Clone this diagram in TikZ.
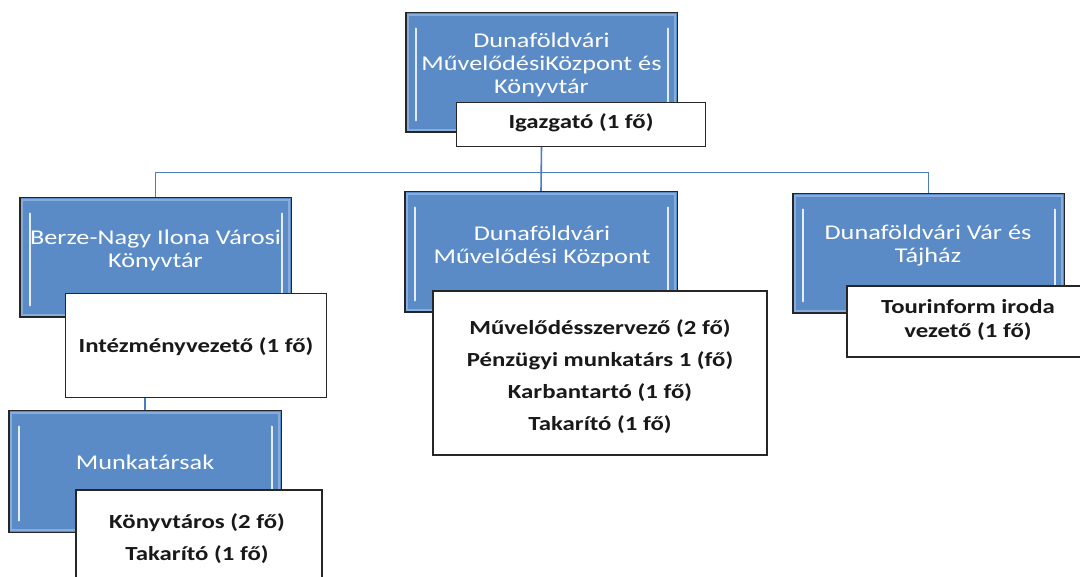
\documentclass[tikz,border=0pt]{standalone}
\usepackage{fontspec}
\setmainfont{Carlito}
\newfontfamily\bluefont[FakeStretch=1.25]{Carlito}
\newfontfamily\wbold[FakeStretch=1.24]{Carlito}
\definecolor{bluefill}{HTML}{5A8BC6}
\definecolor{edgeblue}{HTML}{86ADDB}
\definecolor{stripeblue}{HTML}{E2EDF9}
\definecolor{connblue}{HTML}{4A7DBA}
\tikzset{
  bluebox/.style={draw=black!85, line width=1pt, fill=bluefill, inner sep=0pt},
  whitebox/.style={draw=black!85, line width=1.2pt, fill=white, inner sep=0pt},
  bluetext/.style={text=white, align=center, inner sep=0pt, font=\bluefont\fontsize{21}{23}\selectfont},
  wtext/.style={text=black!90, align=center, inner sep=0pt, font=\wbold\bfseries\fontsize{20}{32}\selectfont},
  conn/.style={draw=connblue, line width=1.6pt},
  edgeline/.style={draw=edgeblue, line width=2.5pt},
  stripe/.style={draw=stripeblue, line width=2pt, line cap=round},
}
\newcommand\mybevel[1]{%
  \draw[edgeline] ([shift={(2.5pt,-2.5pt)}]#1.north west) rectangle ([shift={(-2.5pt,2.5pt)}]#1.south east);
  \draw[stripe] ([shift={(10pt,-16pt)}]#1.north west) -- ([shift={(10pt,12pt)}]#1.south west);
  \draw[stripe] ([shift={(-10pt,-16pt)}]#1.north east) -- ([shift={(-10pt,12pt)}]#1.south east);
}
\begin{document}
\begin{tikzpicture}[x=1pt,y=-1pt]
\useasboundingbox (0,0) rectangle (1080,577);
\clip (0,0) rectangle (1080,577);
\fill[white] (0,0) rectangle (1080,577);

% boxes (blue)
\node[bluebox, minimum width=271pt, minimum height=119pt] (top) at (541.5,72.5) {};
\node[bluebox, minimum width=271pt, minimum height=119pt] (lib) at (155.5,257.5) {};
\node[bluebox, minimum width=272pt, minimum height=120pt] (kozp) at (541,252) {};
\node[bluebox, minimum width=271pt, minimum height=119pt] (var) at (928.5,253.5) {};
\node[bluebox, minimum width=272pt, minimum height=121pt] (munk) at (145,471.5) {};

% white boxes (nodes defined for connector anchors)
\path (581,124.5) node[minimum width=248pt, minimum height=43pt, inner sep=0pt] (igaz) {};
\path (196,345.5) node[minimum width=260pt, minimum height=103pt, inner sep=0pt] (intez) {};

% connectors
\coordinate (bus) at (0,172.5);
\draw[conn] (top.south |- igaz.south) -- (kozp.north);
\draw[conn] (lib.north |- bus) -- (var.north |- bus);
\draw[conn] (lib.north |- bus) -- (lib.north);
\draw[conn] (var.north |- bus) -- (var.north);
\draw[conn] (munk.north |- intez.south) -- (munk.north);

% bevel and borders of blue boxes
\foreach \b in {top,lib,kozp,var,munk}{\mybevel{\b}}
\draw[draw=black!85, line width=1pt] (top.north west) rectangle (top.south east);
\draw[draw=black!85, line width=1pt] (lib.north west) rectangle (lib.south east);
\draw[draw=black!85, line width=1pt] (kozp.north west) rectangle (kozp.south east);
\draw[draw=black!85, line width=1pt] (var.north west) rectangle (var.south east);
\draw[draw=black!85, line width=1pt] (munk.north west) rectangle (munk.south east);

% blue box texts
\node[bluetext] (ttop) at (541.5,64.5) {Dunaföldvári\\MűvelődésiKözpont és\\Könyvtár};
\node[bluetext] (tlib) at (155.5,250.5) {Berze-Nagy Ilona Városi\\Könyvtár};
\node[bluetext] (tkozp) at (542,246.5) {Dunaföldvári\\Művelődési Központ};
\node[bluetext] (tvar) at (928,245.5) {Dunaföldvári Vár és\\Tájház};
\node[bluetext] (tmunk) at (145,462) {Munkatársak};

% white boxes
\draw[whitebox] (igaz.north west) rectangle (igaz.south east);
\draw[whitebox] (intez.north west) rectangle (intez.south east);
\node[whitebox, minimum width=334pt, minimum height=164pt] (kozpw) at (600,373) {};
\node[whitebox, minimum width=243pt, minimum height=71pt] (varw) at (968.5,321.5) {};
\node[whitebox, minimum width=246pt, minimum height=120pt] (munkw) at (199,550) {};

% white box texts
\node[wtext] (tigaz) at (581,123) {Igazgató (1 fő)};
\node[wtext] (tintez) at (196,347) {Intézményvezető (1 fő)};
\node[wtext] (tkozpw) at (600,377) {Művelődésszervező (2 fő)\\Pénzügyi munkatárs 1 (fő)\\Karbantartó (1 fő)\\Takarító (1 fő)};
\node[wtext, font=\wbold\bfseries\fontsize{20}{24}\selectfont] (tvarw) at (968,320) {Tourinform iroda\\vezető (1 fő)};
\node[wtext] (tmunkw) at (197,539) {Könyvtáros (2 fő)\\Takarító (1 fő)};
\end{tikzpicture}
\end{document}
